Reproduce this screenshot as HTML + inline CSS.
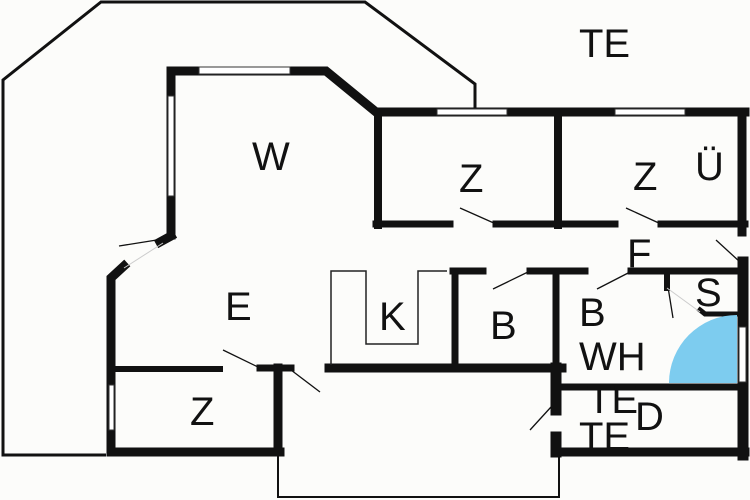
<!DOCTYPE html>
<html><head><style>
html,body{margin:0;padding:0;background:#fcfcfa;}
svg{display:block;}
text{font-family:"Liberation Sans",sans-serif;fill:#111;}
</style></head><body>
<svg width="750" height="500" viewBox="0 0 750 500" xmlns="http://www.w3.org/2000/svg">
<rect width="750" height="500" fill="#fcfcfa"/>
<polyline points="106,455 3,455 3,80 101,2 365,2 475,84 475,112" fill="none" stroke="#111" stroke-width="3"/>
<polyline points="278,452 278,497 559,497 559,452" fill="none" stroke="#111" stroke-width="2"/>
<g stroke="#111" fill="none" stroke-linecap="square">
<polyline points="171,235 171,71 326,71 376,112 745,112" stroke-width="9"/>
<line x1="171" y1="236" x2="160" y2="242" stroke-width="9"/>
<polyline points="124,266 111,278 111,452 280,452" stroke-width="9"/>
<line x1="378" y1="112" x2="378" y2="225" stroke-width="8"/>
<line x1="558" y1="112" x2="558" y2="225" stroke-width="8"/>
<line x1="376" y1="224" x2="450" y2="224" stroke-width="7"/>
<line x1="496" y1="224" x2="615" y2="224" stroke-width="7"/>
<line x1="661" y1="224" x2="745" y2="224" stroke-width="7"/>
<line x1="742" y1="112" x2="742" y2="232" stroke-width="9"/>
<line x1="743" y1="262" x2="743" y2="455" stroke-width="11"/>
<line x1="112" y1="369" x2="220" y2="369" stroke-width="6"/>
<line x1="260" y1="368" x2="291" y2="368" stroke-width="7"/>
<line x1="278" y1="368" x2="278" y2="452" stroke-width="9"/>
<line x1="329" y1="368" x2="562" y2="368" stroke-width="9"/>
<line x1="556" y1="271" x2="556" y2="410" stroke-width="7"/>
<line x1="556" y1="368" x2="556" y2="410" stroke-width="11"/>
<line x1="556" y1="437" x2="556" y2="452" stroke-width="11"/>
<line x1="556" y1="452" x2="745" y2="452" stroke-width="9"/>
<line x1="558" y1="387" x2="742" y2="387" stroke-width="7"/>
<line x1="455" y1="271" x2="455" y2="366" stroke-width="7"/>
<line x1="453" y1="271" x2="483" y2="271" stroke-width="7"/>
<line x1="530" y1="271" x2="585" y2="271" stroke-width="7"/>
<line x1="631" y1="271" x2="740" y2="271" stroke-width="7"/>
<line x1="667" y1="271" x2="667" y2="288" stroke-width="6"/>
<polyline points="700,310 705,314 737,314" stroke-width="5"/>
</g>
<polyline points="331,365 331,271 366,271 366,344 418,344 418,271 447,271" fill="none" stroke="#222" stroke-width="1.5"/>
<g fill="#fff" stroke="#333" stroke-width="1">
<rect x="199" y="67" width="91" height="7"/>
<rect x="168" y="96" width="6" height="100"/>
<rect x="437" y="109" width="70" height="6"/>
<rect x="615" y="109" width="70" height="6"/>
<rect x="739" y="327" width="7" height="55"/>
<rect x="109" y="385" width="5" height="45"/>
</g>
<g stroke="#111" stroke-width="1.3" fill="none">
<line x1="163" y1="239" x2="119" y2="246"/>
<line x1="460" y1="208" x2="496" y2="224"/>
<line x1="626" y1="208" x2="661" y2="224"/>
<line x1="716" y1="240" x2="740" y2="262"/>
<line x1="493" y1="289" x2="530" y2="271"/>
<line x1="597" y1="289" x2="632" y2="271"/>
<line x1="668" y1="287" x2="673" y2="318"/>
<line x1="223" y1="350" x2="260" y2="368"/>
<line x1="291" y1="370" x2="320" y2="392"/>
<line x1="530" y1="430" x2="551" y2="407"/>
</g>
<g stroke="#ccc" stroke-width="1" fill="none">
<line x1="667" y1="288" x2="700" y2="312"/>
<line x1="163" y1="243" x2="124" y2="268"/>
</g>
<path d="M737,383 L669,383 A68,68 0 0 1 737,315 Z" fill="#7dccef"/>
<g font-size="40">
<text x="579" y="57">TE</text>
<text x="252" y="170">W</text>
<text x="459" y="192">Z</text>
<text x="633" y="190">Z</text>
<text x="695" y="180">Ü</text>
<text x="627" y="267">F</text>
<text x="695" y="306">S</text>
<text x="225" y="320">E</text>
<text x="379" y="330">K</text>
<text x="490" y="339">B</text>
<text x="579" y="326">B</text>
<text x="579" y="370">WH</text>
<text x="190" y="425">Z</text>
<text x="587" y="413">TE</text>
<text x="635" y="430">D</text>
<text x="579" y="450">TE</text>
</g>
</svg>
</body></html>
